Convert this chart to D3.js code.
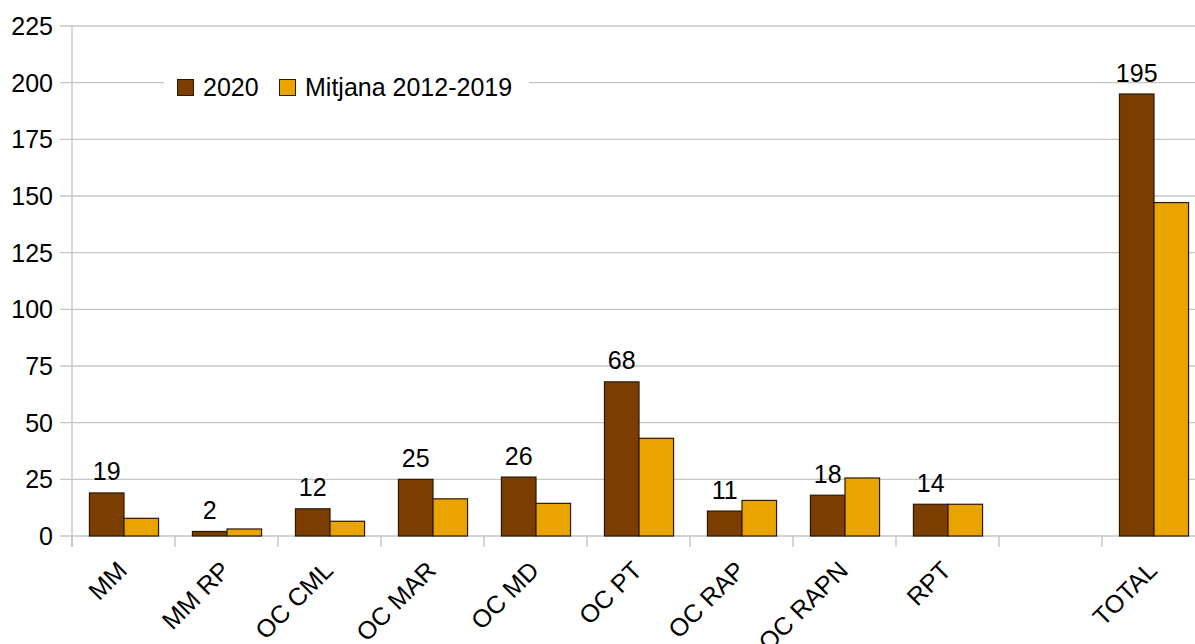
<!DOCTYPE html>
<html><head><meta charset="utf-8">
<script src="https://cdn.jsdelivr.net/npm/d3@7/dist/d3.min.js"></script>
<style>
html,body{margin:0;padding:0;background:#fff;}
svg{display:block;font-family:"Liberation Sans",Arial,sans-serif;}
</style></head>
<body>
<svg id="chart" width="1195" height="644"></svg>
<script>
const categories = ["MM","MM RP","OC CML","OC MAR","OC MD","OC PT","OC RAP","OC RAPN","RPT","","TOTAL"];
const series2020 = [19,2,12,25,26,68,11,18,14,null,195];
const seriesMitjana = [7.8,3.1,6.5,16.4,14.4,43.1,15.7,25.6,14,null,147.1];
const seriesNames = ["2020","Mitjana 2012-2019"];
const yTicks = [0,25,50,75,100,125,150,175,200,225];
const colors = ["#7b3d00","#e9a400"];

(function(){
const svg = d3.select("#chart");
const pL = 72, pR = 1205, pT = 26, pB = 536;
const fs = 25;

const x = d3.scaleBand().domain(d3.range(categories.length)).range([pL,pR]).paddingInner(0).paddingOuter(0);
const inner = d3.scaleBand().domain([0,1]).range([0,x.bandwidth()]).paddingInner(0).paddingOuter(0.49);
const y = d3.scaleLinear().domain([0,225]).range([pB,pT]);

// gridlines
svg.append("g").selectAll("line").data(yTicks).join("line")
  .attr("x1",pL-12).attr("x2",pR)
  .attr("y1",d=>y(d)).attr("y2",d=>y(d))
  .attr("stroke","#c6c6c6").attr("stroke-width",1.3);

// y labels
svg.append("g").selectAll("text").data(yTicks).join("text")
  .attr("x",53).attr("y",d=>y(d)).attr("dy","0.36em")
  .attr("text-anchor","end").attr("font-size",fs).attr("fill","#000")
  .text(d=>d);

// y axis line
svg.append("line").attr("x1",pL).attr("x2",pL).attr("y1",pT).attr("y2",pB+11)
  .attr("stroke","#c0c0c0").attr("stroke-width",1.3);

// x tick marks at band boundaries
const bounds = d3.range(categories.length+1).map(i=>pL + i*x.step());
svg.append("g").selectAll("line").data(bounds).join("line")
  .attr("x1",d=>d).attr("x2",d=>d).attr("y1",pB).attr("y2",pB+11)
  .attr("stroke","#c0c0c0").attr("stroke-width",1.3);

// bars
const data = [series2020, seriesMitjana];
data.forEach((ser,si)=>{
  svg.append("g").selectAll("rect").data(ser.map((v,i)=>({v,i})).filter(d=>d.v!=null)).join("rect")
    .attr("x",d=>x(d.i)+inner(si)+0.5)
    .attr("width",inner.bandwidth())
    .attr("y",d=>y(d.v))
    .attr("height",d=>y(0)-y(d.v))
    .attr("fill",colors[si]).attr("stroke","#2a1a00").attr("stroke-width",1.2);
});

// value labels for 2020
svg.append("g").selectAll("text").data(series2020.map((v,i)=>({v,i})).filter(d=>d.v!=null)).join("text")
  .attr("x",d=>x(d.i)+inner(0)+inner.bandwidth()/2+0.5)
  .attr("y",d=>y(d.v)-12.5)
  .attr("text-anchor","middle").attr("font-size",fs).attr("fill","#000")
  .text(d=>d.v);

// category labels
svg.append("g").selectAll("text").data(categories).join("text")
  .attr("transform",(d,i)=>`translate(${x(i)+x.bandwidth()/2+5},572) rotate(-45)`)
  .attr("text-anchor","end").attr("font-size",fs).attr("fill","#000")
  .text(d=>d);

// legend
const lg = svg.append("g");
lg.append("rect").attr("x",164).attr("y",66).attr("width",365).attr("height",40).attr("fill","#fff");
const legX = [177, 279];
seriesNames.forEach((n,i)=>{
  lg.append("rect").attr("x",legX[i]+0.5).attr("y",79.5).attr("width",16).attr("height",16)
    .attr("fill",colors[i]).attr("stroke","#2a1a00").attr("stroke-width",1);
  lg.append("text").attr("x",legX[i]+26).attr("y",96).attr("font-size",fs).attr("fill","#000").text(n);
});
})();
</script>
</body></html>
